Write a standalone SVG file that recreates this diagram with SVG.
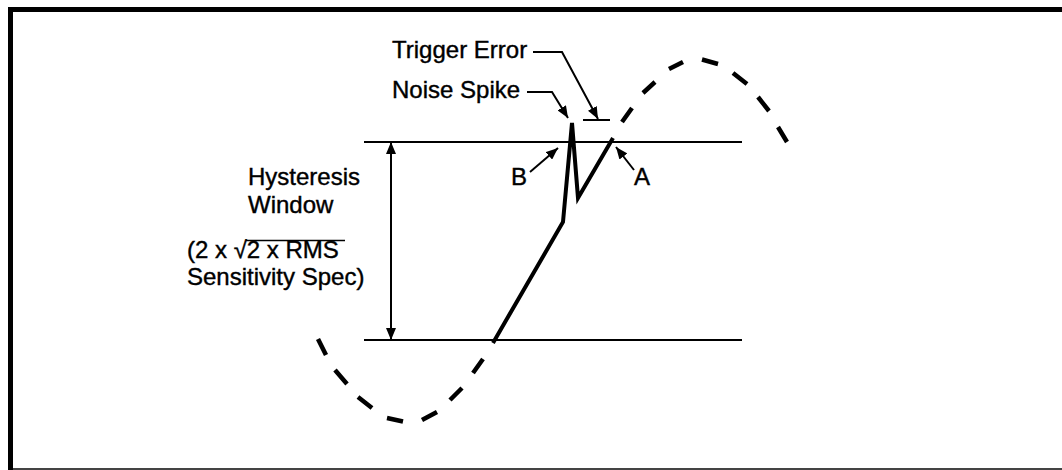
<svg xmlns="http://www.w3.org/2000/svg" width="1062" height="470" viewBox="0 0 1062 470">
<style>
.t{font-family:"Liberation Sans",Arial,Helvetica,sans-serif;font-size:24px;fill:#000;stroke:#000;stroke-width:0.4}
.thr{stroke:#000;stroke-width:2;fill:none}
.ld{stroke:#000;stroke-width:2;fill:none}
.sig{stroke:#000;stroke-width:4;fill:none;stroke-linejoin:miter;stroke-linecap:butt}
.dash{stroke:#000;stroke-width:4.5;fill:none;stroke-linecap:butt}
</style>
<defs>
<marker id="ah" viewBox="0 0 12 10" refX="12" refY="5" markerWidth="12" markerHeight="10" markerUnits="userSpaceOnUse" orient="auto-start-reverse">
<path d="M0,0 L12,5 L0,10 z" fill="#000"/>
</marker>
</defs>
<rect width="1062" height="470" fill="#fff"/>
<g id="frame">
<rect x="8" y="7" width="1054" height="5" fill="#000"/>
<rect x="8" y="7" width="5" height="463" fill="#000"/>
<rect x="13" y="468" width="1049" height="2" fill="#444"/>
</g>
<g id="thresholds">
<line class="thr" x1="364" y1="142" x2="742" y2="142"/>
<line class="thr" x1="364" y1="340" x2="742" y2="340"/>
</g>
<g id="waveform">
<path class="dash" d="M318,339 L326,355 M335,370 L347,384 M358,397 L372,408 M387,418 L403,421.5 M422,420 L437,412 M450,400 L462,388 M473,373 L483,359 M622,122 L632,108 M643,93 L655,82 M669,69 L683,62 M702,59.5 L718,64 M733,73 L747,84 M758,97 L769,111 M778,127 L787,142"/>
<polyline class="sig" points="493,343 563,222 572,123 578,198 613,138"/>
<line class="ld" x1="583" y1="120" x2="610" y2="120"/>
</g>
<g id="label-hysteresis">
<text class="t" x="248" y="185">Hysteresis</text>
<text class="t" x="248" y="213">Window</text>
<text class="t" x="187" y="258">(2 x √2 x RMS</text>
<line x1="246" y1="240.5" x2="345" y2="240.5" stroke="#000" stroke-width="1.5"/>
<text class="t" x="187" y="285">Sensitivity Spec)</text>
</g>
<g id="label-trigger-error"><text class="t" x="392" y="58">Trigger Error</text></g>
<g id="label-noise-spike"><text class="t" x="392" y="98">Noise Spike</text></g>
<g id="label-b"><text class="t" x="511" y="185">B</text></g>
<g id="label-a"><text class="t" x="634" y="185">A</text></g>
<g id="connectors">
<line class="ld" x1="391" y1="142" x2="391" y2="340" marker-start="url(#ah)" marker-end="url(#ah)"/>
<polyline class="ld" points="533,52 562,52 598,119" marker-end="url(#ah)"/>
<polyline class="ld" points="527,92 552,92 568,118" marker-end="url(#ah)"/>
<line class="ld" x1="530" y1="172" x2="558" y2="148" marker-end="url(#ah)"/>
<line class="ld" x1="634" y1="170" x2="616" y2="147" marker-end="url(#ah)"/>
</g>
</svg>
